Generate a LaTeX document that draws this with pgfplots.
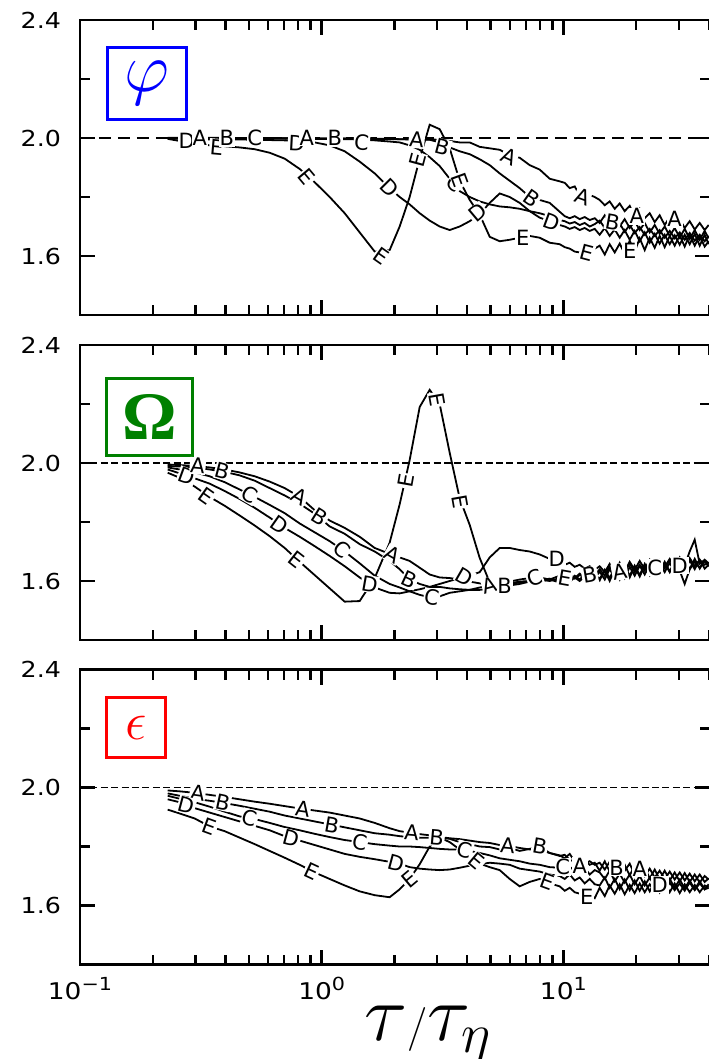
\RequirePackage{fix-cm}
\documentclass[border=0pt]{standalone}
\usepackage{graphicx}
\usepackage{pgfplots}
\pgfplotsset{compat=1.18}
\usepackage{pgfplotstable}
\usepackage{fontspec}
\setmainfont{DejaVu Sans}
\newfontfamily\tickfamily[FakeStretch=1.15]{DejaVu Sans}
\newfontfamily\lblfamily{DejaVu Sans}
\newfontfamily\omegafont{Liberation Serif}
\definecolor{pgreen}{RGB}{0,128,0}
\newcommand\sups[1]{\raisebox{4.5pt}{\fontsize{9}{9}\selectfont #1}}

% ---------- panel 1 (phi) ----------
\pgfplotstableread{
t      A     B     C     D     E
0.2306 2.001 2.000 1.999 1.998 1.997
0.2585 2.001 2.000 1.999 1.997 1.990
0.2983 2.001 2.000 1.999 1.996 1.983
0.3440 2.001 2.000 1.999 1.995 1.975
0.3969 2.000 2.000 1.999 1.995 1.972
0.4578 2.000 2.000 1.998 1.995 1.968
0.5283 2.000 2.000 1.998 1.994 1.962
0.6092 2.000 1.999 1.998 1.993 1.950
0.7029 1.999 1.999 1.998 1.992 1.930
0.8110 1.999 1.999 1.997 1.990 1.895
0.9355 1.998 1.998 1.997 1.985 1.850
1.079  1.998 1.998 1.997 1.975 1.800
1.245  1.998 1.998 1.996 1.955 1.745
1.436  1.998 1.997 1.995 1.920 1.680
1.657  1.997 1.997 1.992 1.880 1.615
1.911  1.997 1.996 1.988 1.830 1.620
2.102  1.996 1.996 1.985 1.800 1.700
2.312  1.996 1.995 1.975 1.775 1.800
2.544  1.995 1.995 1.960 1.745 1.930
2.798  1.995 1.994 1.935 1.720 2.045
3.077  1.994 1.985 1.905 1.700 2.030
3.385  1.990 1.968 1.862 1.688 1.965
3.724  1.985 1.955 1.820 1.700 1.855
4.097  1.985 1.945 1.800 1.718 1.790
4.506  1.970 1.928 1.785 1.742 1.740
4.957  1.965 1.908 1.775 1.780 1.665
5.451  1.960 1.880 1.768 1.812 1.650
5.996  1.942 1.855 1.765 1.800 1.655
6.596  1.933 1.830 1.760 1.780 1.662
7.256  1.908 1.800 1.752 1.752 1.668
7.980  1.893 1.790 1.745 1.730 1.662
8.777  1.862 1.780 1.735 1.718 1.645
9.654  1.853 1.750 1.722 1.705 1.640
10.13  1.848 1.735 1.718 1.700 1.630
10.62  1.830 1.728 1.710 1.692 1.625
11.14  1.836 1.735 1.715 1.698 1.615
11.68  1.805 1.725 1.705 1.688 1.612
12.25  1.812 1.732 1.712 1.695 1.610
12.85  1.807 1.722 1.700 1.685 1.618
13.48  1.800 1.728 1.708 1.692 1.625
14.13  1.790 1.712 1.720 1.672 1.635
14.83  1.772 1.738 1.695 1.695 1.605
15.54  1.785 1.708 1.715 1.668 1.640
16.31  1.760 1.728 1.688 1.690 1.612
17.10  1.778 1.700 1.710 1.662 1.642
17.93  1.752 1.725 1.682 1.688 1.608
18.81  1.770 1.695 1.705 1.655 1.652
19.72  1.735 1.718 1.678 1.685 1.615
20.69  1.760 1.688 1.698 1.650 1.660
21.70  1.728 1.712 1.672 1.680 1.620
22.76  1.745 1.680 1.692 1.645 1.662
23.87  1.715 1.705 1.668 1.675 1.628
25.02  1.738 1.675 1.688 1.642 1.668
26.25  1.705 1.700 1.662 1.672 1.630
27.54  1.732 1.668 1.685 1.640 1.668
28.87  1.700 1.695 1.660 1.670 1.635
30.29  1.725 1.662 1.680 1.638 1.670
31.76  1.695 1.692 1.655 1.672 1.632
33.31  1.718 1.658 1.678 1.640 1.672
34.94  1.690 1.688 1.652 1.675 1.635
36.65  1.712 1.655 1.672 1.635 1.668
38.42  1.688 1.685 1.650 1.672 1.632
39.92  1.705 1.660 1.668 1.640 1.650
}\pone

\pgfplotstableread{
t     y     lab ang
0.2763 1.992 D 0
0.3129 1.999 A 0
0.3678 1.969 E -5
0.4046 1.999 B 0
0.5283 1.999 C 0
0.7879 1.982 D -3
0.8669 2.002 A 0
1.132  1.999 B 0
1.464  1.985 C -5
0.8669 1.868 E -50
1.911  1.830 D -45
1.771  1.600 E -35
2.472  1.994 A -5
2.496  1.925 E 75
3.168  1.968 B -15
3.550  1.845 C -45
3.724  1.858 E -70
4.419  1.746 D 40
5.996  1.938 A -25
7.393  1.797 B -35
6.787  1.662 E 0
8.945  1.716 D -20
12.02  1.800 A -20
12.49  1.611 E -15
15.99  1.716 B -10
18.81  1.616 E 0
20.11  1.735 A 0
28.87  1.725 A 0
}\lone

% ---------- panel 2 (Omega) ----------
\pgfplotstableread{
t      A     B     C     D     E
0.2306 1.995 1.990 1.985 1.978 1.967
0.2585 1.993 1.988 1.978 1.965 1.950
0.2983 1.990 1.985 1.968 1.948 1.920
0.3440 1.985 1.978 1.955 1.930 1.885
0.3969 1.978 1.970 1.935 1.905 1.855
0.4578 1.968 1.958 1.910 1.878 1.822
0.5283 1.955 1.940 1.885 1.848 1.788
0.6092 1.937 1.915 1.858 1.815 1.752
0.7029 1.915 1.890 1.830 1.780 1.712
0.8110 1.885 1.862 1.795 1.750 1.665
0.9355 1.840 1.828 1.765 1.718 1.620
1.079  1.805 1.785 1.735 1.685 1.575
1.245  1.780 1.760 1.700 1.650 1.530
1.436  1.750 1.725 1.660 1.612 1.532
1.657  1.712 1.700 1.618 1.578 1.610
1.911  1.692 1.668 1.590 1.560 1.730
2.102  1.680 1.640 1.578 1.558 1.860
2.312  1.668 1.605 1.565 1.565 2.010
2.544  1.645 1.590 1.553 1.572 2.190
2.798  1.622 1.580 1.545 1.580 2.248
3.077  1.612 1.580 1.548 1.590 2.200
3.385  1.610 1.575 1.560 1.600 2.035
3.724  1.605 1.572 1.565 1.610 1.880
4.097  1.598 1.570 1.570 1.618 1.790
4.506  1.592 1.570 1.578 1.630 1.678
4.957  1.585 1.575 1.585 1.680 1.595
5.451  1.585 1.580 1.590 1.712 1.580
5.996  1.590 1.585 1.598 1.712 1.592
6.596  1.595 1.590 1.605 1.705 1.598
7.256  1.600 1.598 1.610 1.700 1.600
7.980  1.605 1.602 1.612 1.690 1.598
8.777  1.600 1.608 1.605 1.675 1.605
9.654  1.610 1.598 1.618 1.668 1.595
10.13  1.605 1.612 1.605 1.655 1.610
10.62  1.615 1.602 1.622 1.662 1.598
11.14  1.608 1.618 1.610 1.648 1.612
11.68  1.620 1.605 1.625 1.655 1.600
12.25  1.612 1.622 1.612 1.642 1.615
12.85  1.622 1.610 1.630 1.650 1.605
13.48  1.610 1.625 1.618 1.638 1.620
14.13  1.632 1.602 1.640 1.650 1.608
14.83  1.605 1.638 1.618 1.630 1.635
15.54  1.640 1.610 1.650 1.658 1.600
16.31  1.612 1.645 1.622 1.625 1.640
17.10  1.645 1.612 1.645 1.662 1.605
17.93  1.610 1.650 1.628 1.632 1.645
18.81  1.648 1.618 1.660 1.665 1.612
19.72  1.618 1.652 1.630 1.638 1.650
20.69  1.652 1.620 1.655 1.668 1.615
21.70  1.622 1.658 1.635 1.640 1.652
22.76  1.655 1.625 1.665 1.672 1.620
23.87  1.625 1.660 1.638 1.645 1.658
25.02  1.660 1.630 1.660 1.670 1.625
26.25  1.630 1.665 1.642 1.648 1.660
27.54  1.662 1.632 1.672 1.675 1.630
28.87  1.632 1.668 1.645 1.650 1.662
30.29  1.668 1.635 1.668 1.680 1.635
31.76  1.635 1.672 1.648 1.652 1.590
33.31  1.670 1.640 1.678 1.700 1.640
34.94  1.640 1.675 1.650 1.740 1.665
36.65  1.672 1.642 1.672 1.658 1.645
38.42  1.642 1.670 1.655 1.672 1.668
39.92  1.655 1.650 1.662 1.660 1.650
}\ptwo

\pgfplotstableread{
t     y     lab ang
0.2763 1.955 D -20
0.3069 1.990 A -5
0.3894 1.972 B -15
0.3343 1.888 E -35
0.5035 1.893 C -30
0.6703 1.790 D -35
0.8110 1.885 A -30
0.7879 1.672 E -38
0.9811 1.817 B -32
1.210  1.706 C -40
1.967  1.690 A -30
1.580  1.590 D -10
2.312  1.605 B -25
2.226  1.940 E 80
2.991  2.215 E -80
3.724  1.870 E -80
2.852  1.545 C -10
3.905  1.615 D -30
4.957  1.585 A 15
5.717  1.582 B 0
7.608  1.610 C 20
9.382  1.675 D 0
10.13  1.610 E -10
12.85  1.620 B 10
17.10  1.632 A 10
23.87  1.645 C 0
30.29  1.652 D 0
}\ltwo

% ---------- panel 3 (epsilon) ----------
\pgfplotstableread{
t      A     B     C     D     E
0.2306 1.990 1.980 1.972 1.960 1.925
0.2585 1.987 1.972 1.962 1.950 1.912
0.2983 1.982 1.962 1.950 1.930 1.895
0.3440 1.975 1.955 1.935 1.915 1.868
0.3969 1.968 1.947 1.918 1.900 1.852
0.4578 1.960 1.938 1.902 1.885 1.830
0.5283 1.952 1.928 1.893 1.870 1.808
0.6092 1.945 1.918 1.880 1.855 1.785
0.7029 1.937 1.905 1.866 1.835 1.762
0.8110 1.929 1.895 1.855 1.820 1.738
0.9355 1.922 1.885 1.843 1.805 1.712
1.079  1.915 1.875 1.832 1.790 1.690
1.245  1.905 1.865 1.822 1.775 1.668
1.436  1.895 1.855 1.815 1.765 1.648
1.657  1.880 1.845 1.808 1.757 1.635
1.911  1.862 1.840 1.803 1.748 1.628
2.102  1.852 1.835 1.800 1.742 1.655
2.312  1.847 1.832 1.800 1.730 1.690
2.544  1.842 1.830 1.798 1.725 1.740
2.798  1.838 1.830 1.795 1.722 1.800
3.077  1.832 1.830 1.792 1.720 1.830
3.385  1.828 1.826 1.790 1.722 1.815
3.724  1.825 1.815 1.790 1.728 1.790
4.097  1.820 1.808 1.785 1.735 1.760
4.506  1.815 1.800 1.778 1.740 1.742
4.957  1.812 1.798 1.770 1.745 1.730
5.451  1.805 1.790 1.760 1.742 1.720
5.996  1.802 1.795 1.755 1.738 1.690
6.596  1.795 1.785 1.750 1.725 1.665
7.256  1.790 1.792 1.742 1.720 1.680
7.980  1.788 1.800 1.738 1.715 1.690
8.777  1.778 1.778 1.730 1.705 1.675
9.654  1.768 1.770 1.728 1.700 1.665
10.13  1.772 1.760 1.740 1.690 1.650
10.62  1.755 1.775 1.722 1.705 1.660
11.14  1.748 1.750 1.735 1.685 1.645
11.68  1.735 1.742 1.715 1.695 1.640
12.25  1.742 1.755 1.728 1.675 1.630
12.85  1.750 1.738 1.705 1.690 1.638
13.48  1.738 1.745 1.720 1.672 1.625
14.13  1.745 1.718 1.712 1.668 1.660
14.83  1.722 1.750 1.690 1.695 1.632
15.54  1.748 1.715 1.718 1.660 1.668
16.31  1.712 1.742 1.682 1.690 1.640
17.10  1.738 1.708 1.708 1.655 1.672
17.93  1.718 1.738 1.678 1.688 1.638
18.81  1.742 1.702 1.705 1.652 1.670
19.72  1.705 1.735 1.672 1.685 1.642
20.69  1.730 1.698 1.700 1.650 1.675
21.70  1.700 1.728 1.668 1.682 1.645
22.76  1.725 1.692 1.695 1.648 1.672
23.87  1.695 1.722 1.665 1.680 1.648
25.02  1.718 1.688 1.692 1.645 1.675
26.25  1.690 1.718 1.662 1.678 1.650
27.54  1.715 1.685 1.690 1.645 1.678
28.87  1.688 1.712 1.660 1.675 1.652
30.29  1.712 1.682 1.688 1.642 1.675
31.76  1.685 1.710 1.658 1.672 1.650
33.31  1.708 1.680 1.685 1.645 1.678
34.94  1.682 1.705 1.655 1.670 1.652
36.65  1.705 1.678 1.682 1.645 1.675
38.42  1.680 1.700 1.655 1.668 1.655
39.92  1.692 1.688 1.672 1.662 1.660
}\pthree

\pgfplotstableread{
t     y     lab ang
0.3069 1.983 A -8
0.2763 1.940 D -15
0.3894 1.950 B -12
0.3440 1.866 E -20
0.5035 1.897 C -15
0.8344 1.927 A -8
0.7515 1.827 D -15
1.100  1.873 B -10
0.9091 1.717 E -25
1.436  1.815 C -10
2.357  1.847 A -5
2.043  1.745 D -15
2.312  1.688 E 40
2.991  1.830 B -5
3.905  1.788 C -15
4.378  1.750 E -40
5.884  1.802 A -5
7.980  1.800 B -10
8.61   1.680 E -20
9.934  1.730 C 0
11.68  1.735 A 0
12.49  1.630 E 0
16.61  1.728 B 0
20.69  1.725 A 0
25.02  1.670 D 0
}\lthree

\pgfplotsset{
  every axis/.append style={
    width=315.1pt, height=147.5pt, scale only axis,
    xmode=log, xmin=0.1, xmax=40.5, ymin=1.4, ymax=2.4,
    xtick={0.1,1,10},
    minor xtick={0.2,0.3,0.4,0.5,0.6,0.7,0.8,0.9,2,3,4,5,6,7,8,9,20,30,40},
    ytick={1.6,2.0,2.4}, minor ytick={1.8,2.2},
    tick align=inside, tick pos=both,
    major tick length=7.5pt, minor tick length=5pt,
    axis line style={line width=1.2pt},
    every tick/.append style={line width=1.2pt, black},
    tick label style={font=\tickfamily\fontsize{11}{12}\selectfont},
    yticklabel style={/pgf/number format/fixed, /pgf/number format/fixed zerofill,
      /pgf/number format/precision=1, /pgf/number format/assume math mode=true, xshift=-6pt},
  },
}
\tikzset{mycurve/.style={black, line width=0.9pt}}
\pgfplotsset{
  mylbl/.style={only marks, mark=none, nodes near coords, point meta=explicit symbolic,
    visualization depends on={\thisrow{ang}\as\lang},
    nodes near coords style={anchor=center, rotate=\lang, text=black,
      font=\lblfamily\fontsize{10.5}{10.5}\selectfont, fill=white, inner sep=0.4pt}},
}

\begin{document}
\begin{tikzpicture}
\path[use as bounding box] (0,0) rectangle (354pt,-529.5pt);

\begin{axis}[at={(40pt,-10pt)}, anchor=north west, xticklabels={}]
\addplot[black, line width=0.8pt, dash pattern=on 6pt off 3.5pt, mark=none] coordinates {(0.1,2) (40.5,2)};
\addplot[mycurve, mark=none] table[x=t,y=A]{\pone};
\addplot[mycurve, mark=none] table[x=t,y=B]{\pone};
\addplot[mycurve, mark=none] table[x=t,y=C]{\pone};
\addplot[mycurve, mark=none] table[x=t,y=D]{\pone};
\addplot[mycurve, mark=none] table[x=t,y=E]{\pone};
\addplot[mylbl] table[x=t,y=y,meta=lab]{\lone};
\node[draw=blue, line width=1.5pt, minimum width=39.3pt, minimum height=36pt, inner sep=0pt,
  text=blue, font=\fontsize{35}{35}\selectfont] at (rel axis cs:0.1063,0.785) {$\varphi$};
\end{axis}

\begin{axis}[at={(40pt,-172.5pt)}, anchor=north west, xticklabels={}]
\addplot[black, line width=0.8pt, dash pattern=on 3.5pt off 1.7pt, mark=none] coordinates {(0.1,2) (40.5,2)};
\addplot[mycurve, mark=none] table[x=t,y=A]{\ptwo};
\addplot[mycurve, mark=none] table[x=t,y=B]{\ptwo};
\addplot[mycurve, mark=none] table[x=t,y=C]{\ptwo};
\addplot[mycurve, mark=none] table[x=t,y=D]{\ptwo};
\addplot[mycurve, mark=none] table[x=t,y=E]{\ptwo};
\addplot[mylbl] table[x=t,y=y,meta=lab]{\ltwo};
\node[draw=pgreen, line width=1.5pt, minimum width=42.8pt, minimum height=38.5pt, inner sep=0pt,
  text=pgreen, font=\omegafont\bfseries\fontsize{34}{34}\selectfont] at (rel axis cs:0.1103,0.7566) {Ω};
\end{axis}

\begin{axis}[at={(40pt,-334.75pt)}, anchor=north west,
  xticklabels={10\sups{−1},10\sups{0},10\sups{1}},
  xticklabel style={yshift=-3pt, font=\tickfamily\fontsize{11.5}{12}\selectfont},
  xlabel={\fontsize{40}{40}\selectfont$\tau\scalebox{0.55}{$/$}\tau_\eta$},
  xlabel style={at={(axis description cs:0.552,-0.239)}, anchor=center, inner sep=0pt}]
\addplot[black, line width=0.8pt, dash pattern=on 3.5pt off 1.7pt, mark=none] coordinates {(0.1,2) (40.5,2)};
\addplot[mycurve, mark=none] table[x=t,y=A]{\pthree};
\addplot[mycurve, mark=none] table[x=t,y=B]{\pthree};
\addplot[mycurve, mark=none] table[x=t,y=C]{\pthree};
\addplot[mycurve, mark=none] table[x=t,y=D]{\pthree};
\addplot[mycurve, mark=none] table[x=t,y=E]{\pthree};
\addplot[mylbl] table[x=t,y=y,meta=lab]{\lthree};
\node[draw=red, line width=1.5pt, minimum width=29.7pt, minimum height=30pt, inner sep=0pt,
  text=red, font=\fontsize{27}{27}\selectfont] at (rel axis cs:0.0893,0.8027) {$\epsilon$};
\end{axis}
\end{tikzpicture}
\end{document}
